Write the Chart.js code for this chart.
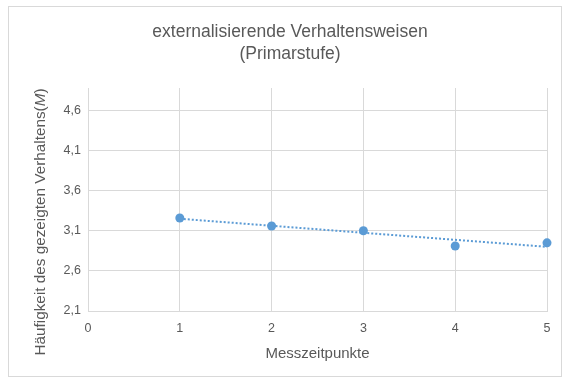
<!DOCTYPE html>
<html>
<head>
<meta charset="utf-8">
<script src="https://cdn.jsdelivr.net/npm/chart.js@4"></script>
<style>
  html, body { margin: 0; padding: 0; background: #fff; }
  #wrap { position: relative; width: 568px; height: 383px; }
  #frame { position: absolute; left: 8px; top: 6px; width: 554px; height: 371px; border: 1px solid #d9d9d9; box-sizing: border-box; pointer-events: none; }
</style>
</head>
<body>
<div id="wrap">
  <canvas id="chart" width="568" height="383"></canvas>
  <div id="frame"></div>
</div>
<script>
const titleLines = ["externalisierende Verhaltensweisen", "(Primarstufe)"];
const xTitle = "Messzeitpunkte";
const yTitle = "Häufigkeit des gezeigten Verhaltens(";
const yTitleItalic = "M";
const yTitleEnd = ")";

const xValues = [1, 2, 3, 4, 5];
const yValues = [3.26, 3.16, 3.10, 2.91, 2.95];

// linear trend line
const trendX = [1, 5];
const trendY = [3.25, 2.90];

const xTicks = [0, 1, 2, 3, 4, 5];
const yTicks = [2.1, 2.6, 3.1, 3.6, 4.1, 4.6];

const textColor = "#595959";
const gridColor = "#d9d9d9";
const blue = "#5b9bd5";
const fontFamily = "'Liberation Sans', Arial, sans-serif";

// chart title and y title drawn by hand: Excel centres them a bit off the plot
const textPlugin = {
  id: "texts",
  afterDraw(chart) {
    const ctx = chart.ctx;
    ctx.save();
    ctx.fillStyle = textColor;
    ctx.textBaseline = "middle";

    ctx.textAlign = "center";
    ctx.font = "17.5px " + fontFamily;
    titleLines.forEach((line, i) => ctx.fillText(line, 290, 32 + i * 22));

    ctx.textAlign = "left";
    const normal = "15.3px " + fontFamily;
    const italic = "italic 15.3px " + fontFamily;
    ctx.font = normal;
    const w1 = ctx.measureText(yTitle).width;
    const w3 = ctx.measureText(yTitleEnd).width;
    ctx.font = italic;
    const w2 = ctx.measureText(yTitleItalic).width;
    const total = w1 + w2 + w3;
    ctx.translate(41, 222);
    ctx.rotate(-Math.PI / 2);
    let x = -total / 2;
    ctx.font = normal;
    ctx.fillText(yTitle, x, 0);
    x += w1;
    ctx.font = italic;
    ctx.fillText(yTitleItalic, x, 0);
    x += w2;
    ctx.font = normal;
    ctx.fillText(yTitleEnd, x, 0);
    ctx.restore();
  }
};

const points = xValues.map((x, i) => ({ x: x, y: yValues[i] }));
const trend = trendX.map((x, i) => ({ x: x, y: trendY[i] }));

new Chart(document.getElementById("chart"), {
  type: "scatter",
  data: {
    datasets: [{
      label: "Mittelwerte",
      data: points,
      backgroundColor: blue,
      borderColor: blue,
      pointRadius: 4.5,
      pointBorderWidth: 0,
      clip: false
    }, {
      label: "Trend",
      data: trend,
      showLine: true,
      borderColor: blue,
      borderWidth: 2,
      borderDash: [2, 2],
      pointRadius: 0,
      fill: false
    }]
  },
  options: {
    responsive: false,
    animation: false,
    layout: { padding: { left: 0, right: 21, top: 88, bottom: 0 } },
    plugins: {
      legend: { display: false },
      tooltip: { enabled: false },
      title: { display: false }
    },
    scales: {
      x: {
        type: "linear",
        min: 0,
        max: 5,
        afterBuildTicks: (scale) => { scale.ticks = xTicks.map(v => ({ value: v })); },
        afterFit: (scale) => { scale.height = 72; },
        grid: { color: gridColor, drawTicks: false },
        border: { color: gridColor },
        ticks: {
          color: textColor,
          padding: 10,
          font: { family: fontFamily, size: 12.5 }
        },
        title: {
          display: true,
          text: xTitle,
          color: textColor,
          font: { family: fontFamily, size: 15, lineHeight: 1.2 },
          padding: { top: 0, bottom: 20 }
        }
      },
      y: {
        type: "linear",
        min: 2.1,
        max: 4.88,
        afterBuildTicks: (scale) => { scale.ticks = yTicks.map(v => ({ value: v })); },
        afterFit: (scale) => { scale.width = 88; },
        grid: { color: gridColor, drawTicks: false },
        border: { color: gridColor },
        ticks: {
          color: textColor,
          padding: 7,
          font: { family: fontFamily, size: 12.5 },
          callback: (v) => v.toFixed(1).replace(".", ",")
        }
      }
    }
  },
  plugins: [textPlugin]
});
</script>
</body>
</html>
